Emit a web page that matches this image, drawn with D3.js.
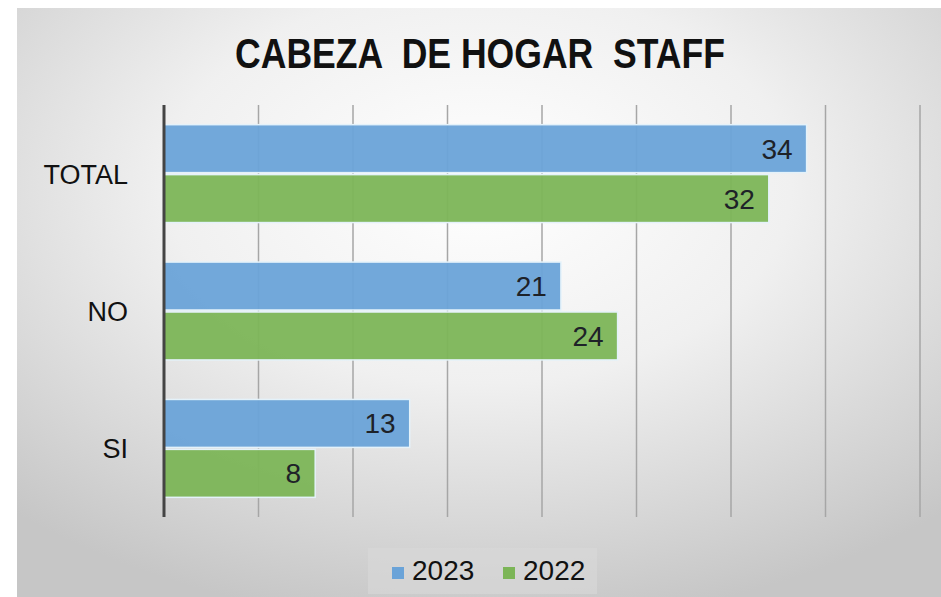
<!DOCTYPE html>
<html>
<head>
<meta charset="utf-8">
<script src="https://cdn.jsdelivr.net/npm/d3@7"></script>
<style>
    body { margin: 0; background: #ffffff; }
    text { font-family: "Liberation Sans", Arial, sans-serif; }
</style>
</head>
<body>
<div id="chart"></div>
<script>
let categories = ["TOTAL", "NO", "SI"];
let seriesNames = ["2023", "2022"];
let values2023 = [34, 21, 13];
let values2022 = [32, 24, 8];
let xTicks = [0, 5, 10, 15, 20, 25, 30, 35, 40];

function drawChart() {
    let width = 941;
    let height = 597;

    let svg = d3.select("#chart")
        .append("svg")
        .attr("width", width)
        .attr("height", height);

    // background gradient, like the office chart area
    let defs = svg.append("defs");
    let grad = defs.append("radialGradient")
        .attr("id", "bg")
        .attr("cx", "50%")
        .attr("cy", "30%")
        .attr("r", "75%");
    grad.append("stop").attr("offset", "0%").attr("stop-color", "#ffffff");
    grad.append("stop").attr("offset", "45%").attr("stop-color", "#f0f0f0");
    grad.append("stop").attr("offset", "100%").attr("stop-color", "#c6c6c6");

    svg.append("rect")
        .attr("x", 17)
        .attr("y", 8)
        .attr("width", width - 17)
        .attr("height", height - 8)
        .attr("fill", "url(#bg)");

    // title, glyphs a bit taller than wide like the original narrow font
    svg.append("text")
        .text("CABEZA  DE HOGAR  STAFF")
        .attr("transform", "translate(480,68) scale(1,1.1)")
        .attr("text-anchor", "middle")
        .attr("font-size", 38)
        .attr("font-weight", "bold")
        .style("white-space", "pre")
        .attr("fill", "#111")
        .attr("textLength", 490)
        .attr("lengthAdjust", "spacingAndGlyphs");

    let left = 164, right = 920, top = 105, bottom = 517;

    let x = d3.scaleLinear()
        .domain([0, 40])
        .range([left, right]);

    let y = d3.scaleBand()
        .domain(categories)
        .range([top, bottom])
        .paddingInner(0.273)
        .paddingOuter(0.136);

    let inner = d3.scaleBand()
        .domain(seriesNames)
        .range([0, y.bandwidth()]);

    let colors = { "2023": "#6aa3d8", "2022": "#7cb557" };

    // gridlines
    svg.append("g")
        .selectAll("line")
        .data(xTicks.slice(1))
        .enter()
        .append("line")
        .attr("x1", d => x(d))
        .attr("x2", d => x(d))
        .attr("y1", top)
        .attr("y2", bottom)
        .attr("stroke", "#a6a6a6")
        .attr("stroke-width", 1.5);

    let rows = categories.map((c, i) => ({
        cat: c,
        vals: [
            { key: "2023", v: values2023[i] },
            { key: "2022", v: values2022[i] }
        ]
    }));

    let groups = svg.append("g")
        .selectAll("g")
        .data(rows)
        .enter()
        .append("g")
        .attr("transform", d => "translate(0," + y(d.cat) + ")");

    groups.selectAll("rect")
        .data(d => d.vals)
        .enter()
        .append("rect")
        .attr("x", x(0))
        .attr("y", d => inner(d.key) + 1)
        .attr("width", d => x(d.v) - x(0))
        .attr("height", inner.bandwidth() - 2)
        .attr("fill", d => colors[d.key])
        .attr("fill-opacity", 0.95)
        .attr("stroke", "#e4f2fa")
        .attr("stroke-width", 1.5);

    groups.selectAll("text.val")
        .data(d => d.vals)
        .enter()
        .append("text")
        .attr("class", "val")
        .text(d => d.v)
        .attr("x", d => x(d.v) - 14)
        .attr("y", d => inner(d.key) + inner.bandwidth() / 2 + 10)
        .attr("text-anchor", "end")
        .attr("font-size", 28)
        .attr("fill", "#1e2228");

    // category labels
    svg.append("g")
        .selectAll("text")
        .data(categories)
        .enter()
        .append("text")
        .text(d => d)
        .attr("x", 128)
        .attr("y", d => y(d) + y.bandwidth() / 2 + 10)
        .attr("text-anchor", "end")
        .attr("font-size", 27)
        .attr("fill", "#111");

    // axis line
    svg.append("line")
        .attr("x1", left)
        .attr("x2", left)
        .attr("y1", top)
        .attr("y2", bottom)
        .attr("stroke", "#444")
        .attr("stroke-width", 3);

    // legend
    let legend = svg.append("g");
    legend.append("rect")
        .attr("x", 368)
        .attr("y", 548)
        .attr("width", 229)
        .attr("height", 46)
        .attr("fill", "#d9d9d9")
        .attr("fill-opacity", 0.6);

    let lx = [392, 503];
    seriesNames.forEach(function (s, i) {
        legend.append("rect")
            .attr("x", lx[i])
            .attr("y", 567)
            .attr("width", 12)
            .attr("height", 12)
            .attr("fill", colors[s]);
        legend.append("text")
            .text(s)
            .attr("x", lx[i] + 20)
            .attr("y", 580)
            .attr("font-size", 28)
            .attr("fill", "#111");
    });
}

drawChart();
</script>
</body>
</html>
